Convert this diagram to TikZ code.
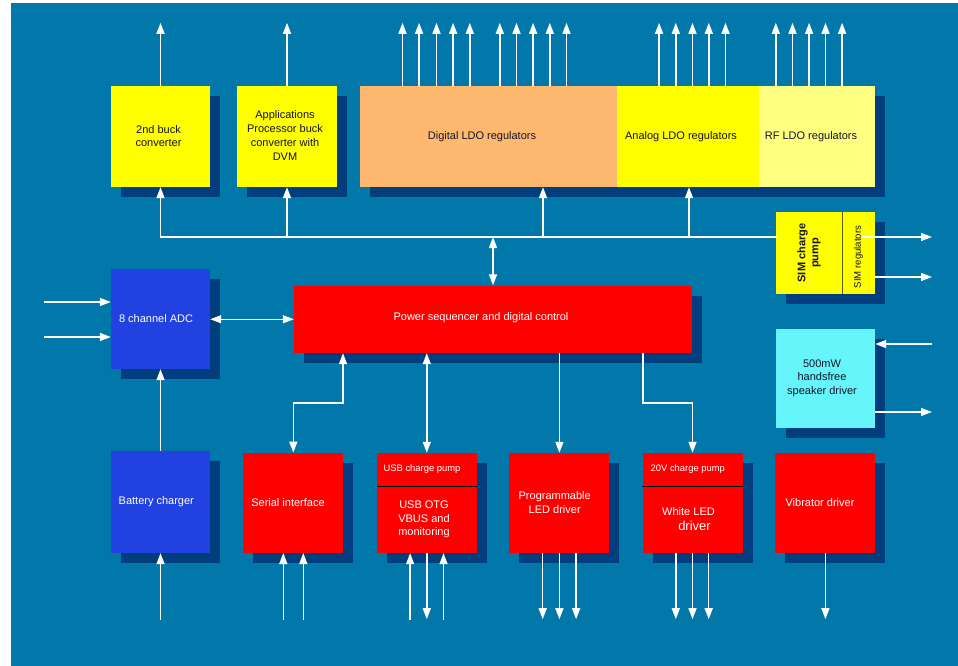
\documentclass[tikz,border=0pt]{standalone}
\usepackage{fontspec}
\setmainfont{Liberation Sans}
\usetikzlibrary{arrows.meta,shadows}
\definecolor{bgblue}{RGB}{2,119,170}
\definecolor{shad}{RGB}{0,62,126}
\definecolor{bred}{RGB}{255,0,0}
\definecolor{bblue}{RGB}{33,66,224}
\definecolor{bcyan}{RGB}{102,245,250}
\definecolor{borange}{RGB}{255,184,112}
\definecolor{byellow}{RGB}{255,255,0}
\definecolor{blyellow}{RGB}{255,255,128}
\definecolor{dtext}{RGB}{20,20,40}
\definecolor{simline}{RGB}{90,90,20}
\begin{document}
\begin{tikzpicture}[x=1pt,y=-1pt,
  blk/.style={rectangle, inner sep=0pt, minimum width=100pt, minimum height=100pt,
    general shadow={fill=shad, shadow xshift=10pt, shadow yshift=-10pt}},
  txtw/.style={font=\fontsize{11}{13.7}\selectfont, text=white, align=center, inner sep=0pt},
  txtd/.style={txtw, text=dtext},
  small/.style={font=\fontsize{9.4}{11}\selectfont},
  ln/.style={draw=white, line width=1.5pt},
  aout/.style={ln, -{Triangle[length=11pt,width=8pt]}},
  ain/.style={ln, {Triangle[length=11pt,width=8pt]}-},
  abi/.style={ln, {Triangle[length=11pt,width=8pt]}-{Triangle[length=11pt,width=8pt]}},
  divline/.style={draw=black, line width=0.8pt}]

\useasboundingbox (0,0) rectangle (958,666);
\fill[white] (0,0) rectangle (958,666);
\fill[bgblue] (11,3) rectangle (958,666);

% top row
\node[blk, fill=byellow, minimum width=99pt, minimum height=101pt] (buck2) at (160.5,136.5) {};
\node[blk, fill=byellow, minimum width=100pt, minimum height=101pt] (apbuck) at (287,136.5) {};
\node[blk, fill=borange, minimum width=257pt, minimum height=101pt] (dldo) at (488.5,136.5) {};
\node[blk, fill=byellow, minimum width=142pt, minimum height=101pt] (aldo) at (688,136.5) {};
\node[blk, fill=blyellow, minimum width=116pt, minimum height=101pt] (rfldo) at (817,136.5) {};
\node[txtd] (buck2t) at (158.5,136) {2nd buck\\converter};
\node[txtd] (apbuckt) at (285,135.5) {Applications\\Processor buck\\converter with\\DVM};
\node[txtd] (dldot) at (482,136.3) {Digital LDO regulators};
\node[txtd] (aldot) at (681,136.3) {Analog LDO regulators};
\node[txtd] (rfldot) at (811,136.3) {RF LDO regulators};

% SIM
\node[blk, fill=byellow, minimum width=99pt, minimum height=82pt] (sim) at (825.5,253) {};
\draw[draw=simline, line width=1pt] ([xshift=16.5pt]sim.north) -- ([xshift=16.5pt]sim.south);
\node[txtd, font=\fontsize{11}{13}\selectfont\bfseries, rotate=90] (simt) at (809,253) {SIM charge\\pump};
\node[txtd, font=\fontsize{9.6}{11}\selectfont, rotate=90] (simrt) at (858.5,257) {SIM regulators};

% speaker
\node[blk, fill=bcyan, minimum width=99pt, minimum height=99pt] (spk) at (825.5,378.5) {};
\node[txtd] (spkt) at (822,378) {500mW\\handsfree\\speaker driver};

% middle
\node[blk, fill=bblue, minimum width=99pt, minimum height=100pt] (adc) at (160.5,319) {};
\node[txtw] (adct) at (156,318.3) {8 channel ADC};
\node[blk, fill=bred, minimum width=398pt, minimum height=67.5pt] (ps) at (493,319.25) {};
\node[txtw] (pst) at (481,318) {Power sequencer and digital control};

% bottom row
\node[blk, fill=bblue, minimum width=99pt, minimum height=102pt] (batt) at (160.5,502) {};
\node[txtw] (battt) at (156.3,501.7) {Battery charger};
\node[blk, fill=bred] (serial) at (293.3,502.8) {};
\node[txtw] (serialt) at (288,502.3) {Serial interface};
\node[blk, fill=bred] (usb) at (426.8,503) {};
\draw[divline] ([yshift=16.5pt]usb.west) -- ([yshift=16.5pt]usb.east);
\node[txtw, small] (usbt1) at (422,469.5) {USB charge pump};
\node[txtw] (usbt2) at (424,519.5) {USB OTG\\VBUS and\\monitoring};
\node[blk, fill=bred] (pled) at (559.4,503) {};
\node[txtw] (pledt) at (554.7,502.7) {Programmable\\LED driver};
\node[blk, fill=bred] (wled) at (692.5,503) {};
\draw[divline] ([yshift=16.5pt]wled.west) -- ([yshift=16.5pt]wled.east);
\node[txtw, small] (wledt0) at (687.8,469.5) {20V charge pump};
\node[txtw] (wledt1) at (688.5,511.5) {White LED};
\node[txtw, font=\fontsize{13}{14}\selectfont] (wledt2) at (694.5,526) {driver};
\node[blk, fill=bred] (vib) at (825.4,503) {};
\node[txtw] (vibt) at (820,502.3) {Vibrator driver};

% top outputs
\draw[aout] (buck2.north) -- ++(0,-63);
\draw[aout] (apbuck.north) -- ++(0,-63);
\foreach \d in {42.7,59.3,76.7,93.3,110,140,156.7,173.3,190,206.7}
  \draw[aout] ([xshift=\d pt]dldo.north west) -- ++(0,-63);
\foreach \d in {42.3,59,75.7,92,108.7}
  \draw[aout] ([xshift=\d pt]aldo.north west) -- ++(0,-63);
\foreach \d in {17,33.7,50.3,66.7,83.3}
  \draw[aout] ([xshift=\d pt]rfldo.north west) -- ++(0,-63);

% bus
\coordinate (busL) at (160.5,237);
\coordinate (dtap) at (543,237);
\coordinate (atap) at (689,237);
\draw[ln, line cap=rect] (busL) -- (busL -| sim.west);
\draw[aout] (busL) -- (buck2.south);
\draw[aout] (busL -| apbuck.south) -- (apbuck.south);
\draw[aout] (dtap) -- (dtap |- dldo.south);
\draw[aout] (atap) -- (atap |- aldo.south);
\draw[abi] (busL -| ps.north) -- (ps.north);

% SIM and speaker I/O
\coordinate (simin) at (862,237);
\coordinate (sio1) at (932,237);
\coordinate (sio2) at (932,277);
\draw[aout] (simin) -- (sio1);
\draw[aout] (sio2 -| sim.east) -- (sio2);
\coordinate (spi) at (932,344);
\coordinate (spo) at (932,412);
\draw[aout] (spi) -- (spi -| spk.east);
\draw[aout] (spo -| spk.east) -- (spo);

% ADC
\coordinate (ai1) at (44,302);
\coordinate (ai2) at (44,337);
\draw[aout] (ai1) -- (ai1 -| adc.west);
\draw[aout] (ai2) -- (ai2 -| adc.west);
\draw[abi] (ps.west -| adc.east) -- (ps.west);
\draw[aout] (batt.north) -- (adc.south);
\draw[ain] (batt.south) -- ++(0,67);

% serial
\draw[ain] ([xshift=-10pt]serial.south) -- ++(0,67);
\draw[ain] ([xshift=10pt]serial.south) -- ++(0,67);
\draw[abi] (serial.north) |- ([xshift=-150pt,yshift=-50pt]ps.south) -- ([xshift=-150pt]ps.south);

% USB
\draw[abi] (usb.north) -- (usb.north |- ps.south);
\draw[ain] ([xshift=-16.7pt]usb.south) -- ++(0,67);
\draw[aout] (usb.south) -- ++(0,66);
\draw[ain] ([xshift=16.7pt]usb.south) -- ++(0,67);

% LED drivers
\draw[aout] (pled.north |- ps.south) -- (pled.north);
\draw[aout] ([xshift=150pt]ps.south) -- ([xshift=150pt,yshift=-50pt]ps.south) -| (wled.north);
\foreach \d in {-16.7,0,16.7}
  \draw[aout] ([xshift=\d pt]pled.south) -- ++(0,66);
\foreach \d in {-16.7,0,16.2}
  \draw[aout] ([xshift=\d pt]wled.south) -- ++(0,66);
\draw[aout] (vib.south) -- ++(0,66);
\end{tikzpicture}
\end{document}
